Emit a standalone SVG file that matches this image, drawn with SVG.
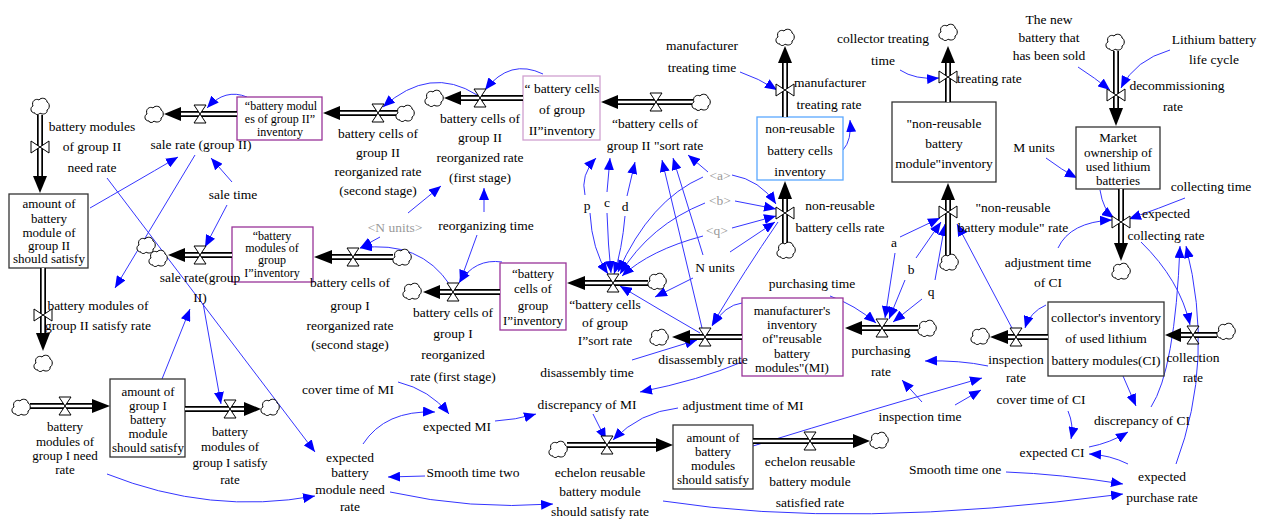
<svg xmlns="http://www.w3.org/2000/svg" xmlns:xlink="http://www.w3.org/1999/xlink" width="1266" height="519" viewBox="0 0 1266 519">
<style>
text { font-family: "Liberation Serif", "Times New Roman", serif; font-size: 13.5px; fill: #000; text-anchor: middle; }
.s { font-size: 13px; }
.t { font-size: 12px; }
.g { fill: #999; }
.lk { fill: none; stroke: #3535ff; stroke-width: 1; marker-end: url(#ah); }
.po { fill: none; stroke: #000; stroke-width: 6; }
.pi { fill: none; stroke: #fff; stroke-width: 2.6; }
.bx { fill: #fff; stroke: #333; stroke-width: 1.3; }
.bp { fill: #fff; stroke: #993399; stroke-width: 1.3; }
.bl { fill: #fff; stroke: #d0a0d0; stroke-width: 1.3; }
.bb { fill: #fff; stroke: #5aa8ff; stroke-width: 1.3; }
.pa { fill: #000; }
.vl { fill: #fff; stroke: #000; stroke-width: 1; }
.cl { fill: #fff; stroke: #000; stroke-width: 1; }
</style>
<defs>
<marker id="ah" viewBox="0 0 12 10" refX="12" refY="5" markerWidth="12" markerHeight="10" markerUnits="userSpaceOnUse" orient="auto">
<path d="M0,0 L12,5 L0,10 Z" fill="#0000ff"/>
</marker>
<path id="cloud" class="cl" d="M-5,7 C-10,7 -10,1 -7,0 C-9,-5 -4,-8 -1,-6 C1,-9 7,-8 7,-4 C10,-3 10,3 7,4 C8,8 2,9 0,7 C-1,9 -5,9 -5,7 Z"/>
<path id="hv" class="vl" d="M-6,-9 L6,-9 L-6,9 L6,9 Z"/>
<path id="vv" class="vl" d="M-9,-6 L-9,6 L9,-6 L9,6 Z"/>
</defs>
<rect width="1266" height="519" fill="#fff"/>

<!-- connectors -->
<g id="connectors">
<path class="lk" d="M740,72 Q758,78 777,90"/>
<path class="lk" d="M900,70 Q915,80 939,78"/>
<path class="lk" d="M1078,67 Q1095,78 1110,90"/>
<path class="lk" d="M1170,50 Q1135,60 1121,88"/>
<path class="lk" d="M1046,158 Q1062,170 1077,178"/>
<path class="lk" d="M1100,190 Q1103,210 1114,218"/>
<path class="lk" d="M1185,198 Q1160,208 1129,219"/>
<path class="lk" d="M1058,248 Q1070,222 1112,220"/>
<path class="lk" d="M1141,242 Q1180,280 1190,325"/>
<path class="lk" d="M1151,407 Q1175,370 1180,246"/>
<path class="lk" d="M1176,464 Q1215,360 1186,246"/>
<path class="lk" d="M1046,305 Q1030,312 1025,328"/>
<path class="lk" d="M1123,376 L1136,406"/>
<path class="lk" d="M1068,411 Q1074,425 1071,439"/>
<path class="lk" d="M1089,447 Q1110,443 1128,432"/>
<path class="lk" d="M1128,464 Q1110,455 1089,454"/>
<path class="lk" d="M1006,472 Q1060,474 1123,484"/>
<path class="lk" d="M663,501 Q850,530 1123,494"/>
<path class="lk" d="M753,446 Q870,410 982,378"/>
<path class="lk" d="M955,405 L981,390"/>
<path class="lk" d="M922,402 L902,380"/>
<path class="lk" d="M988,366 Q960,360 925,361"/>
<path class="lk" d="M1013,330 L957,224"/>
<path class="lk" d="M830,296 Q855,305 876,323"/>
<path class="lk" d="M900,237 L940,218"/>
<path class="lk" d="M895,253 L885,318"/>
<path class="lk" d="M916,258 L941,222"/>
<path class="lk" d="M905,280 L889,319"/>
<path class="lk" d="M935,280 L945,224"/>
<path class="lk" d="M922,299 L893,322"/>
<path class="lk" d="M742,303 Q725,305 712,326"/>
<path class="lk" d="M742,362 Q700,380 640,392"/>
<path class="lk" d="M778,222 Q745,270 712,325"/>
<path class="lk" d="M730,252 L775,222"/>
<path class="lk" d="M732,175 Q760,180 776,204"/>
<path class="lk" d="M735,201 L776,209"/>
<path class="lk" d="M732,228 L776,216"/>
<path class="lk" d="M843,150 Q852,140 850,120"/>
<path class="lk" d="M703,177 Q650,200 618,272"/>
<path class="lk" d="M705,203 Q650,225 620,274"/>
<path class="lk" d="M703,236 Q650,250 622,276"/>
<path class="lk" d="M708,172 L688,155"/>
<path class="lk" d="M703,255 L673,158"/>
<path class="lk" d="M702,328 L662,160"/>
<path class="lk" d="M585,195 Q580,175 596,158"/>
<path class="lk" d="M590,213 Q592,250 608,274"/>
<path class="lk" d="M607,192 L610,158"/>
<path class="lk" d="M607,213 Q608,245 611,273"/>
<path class="lk" d="M627,196 L635,162"/>
<path class="lk" d="M625,216 Q622,250 614,274"/>
<path class="lk" d="M700,333 Q660,310 620,286"/>
<path class="lk" d="M693,278 L655,297"/>
<path class="lk" d="M543,74 Q510,58 485,90"/>
<path class="lk" d="M477,95 Q430,65 383,107"/>
<path class="lk" d="M247,97 Q225,88 207,108"/>
<path class="lk" d="M90,208 Q130,185 178,157"/>
<path class="lk" d="M195,155 L115,288"/>
<path class="lk" d="M232,182 L211,158"/>
<path class="lk" d="M227,205 L205,247"/>
<path class="lk" d="M107,178 L315,452"/>
<path class="lk" d="M162,379 L190,309"/>
<path class="lk" d="M203,303 L221,404"/>
<path class="lk" d="M107,474 Q210,515 315,496"/>
<path class="lk" d="M425,476 L388,477"/>
<path class="lk" d="M363,444 Q385,410 435,412"/>
<path class="lk" d="M398,382 Q430,390 449,414"/>
<path class="lk" d="M495,421 Q515,420 536,414"/>
<path class="lk" d="M593,414 L606,440"/>
<path class="lk" d="M678,408 Q640,412 613,440"/>
<path class="lk" d="M390,492 Q470,510 553,504"/>
<path class="lk" d="M484,212 L484,188"/>
<path class="lk" d="M477,235 L460,282"/>
<path class="lk" d="M408,213 L441,186"/>
<path class="lk" d="M380,237 L360,248"/>
<path class="lk" d="M502,262 Q475,258 459,283"/>
<path class="lk" d="M450,285 Q420,240 360,248"/>
<path class="lk" d="M632,360 L697,340"/>
</g>

<!-- stocks -->
<g id="stock_modules_II_inventory">
<rect class="bp" x="237" y="97" width="85" height="43"/>
<text class="t" x="281" y="110">“battery modul</text><text class="t" x="280" y="122.5">es of group II”</text><text class="t" x="280" y="135.5">inventory</text>
</g>
<g id="stock_cells_II_inventory">
<rect class="bl" x="523" y="76" width="77" height="64"/>
<text x="562" y="93">“ battery cells</text><text x="562" y="114">of group</text><text x="562" y="135">II”inventory</text>
</g>
<g id="stock_nonreusable_cells">
<rect class="bb" x="757" y="117" width="86" height="63"/>
<text x="800" y="133">non-reusable</text><text x="800" y="155">battery cells</text><text x="800" y="176">inventory</text>
</g>
<g id="stock_nonreusable_module">
<rect class="bx" x="892" y="102" width="104" height="80"/>
<text x="944" y="128">"non-reusable</text><text x="944" y="148">battery</text><text x="944" y="168">module"inventory</text>
</g>
<g id="stock_market">
<rect class="bx" x="1076" y="127" width="84" height="62"/>
<text class="s" x="1118" y="141.5">Market</text><text class="s" x="1118" y="156.5">ownership of</text><text class="s" x="1118" y="170.5">used lithium</text><text class="s" x="1118" y="184.5">batteries</text>
</g>
<g id="stock_CI">
<rect class="bx" x="1048" y="302" width="116" height="74"/>
<text x="1106" y="322">collector's inventory</text><text x="1106" y="343">of used lithium</text><text x="1106" y="365">battery modules(CI)</text>
</g>
<g id="stock_MI">
<rect class="bp" x="742" y="298" width="101" height="78"/>
<text class="s" x="792" y="314.5">manufacturer's</text><text class="s" x="792" y="328.5">inventory</text><text class="s" x="792" y="342.5">of"reusable</text><text class="s" x="792" y="357.5">battery</text><text class="s" x="792" y="371.5">modules"(MI)</text>
</g>
<g id="stock_cells_I_inventory">
<rect class="bp" x="500" y="263" width="66" height="67"/>
<text class="s" x="533" y="277.5">“battery</text><text class="s" x="533" y="292.5">cells of</text><text class="s" x="533" y="309.5">group</text><text class="s" x="533" y="324.5">I”inventory</text>
</g>
<g id="stock_modules_I_inventory">
<rect class="bp" x="232" y="227" width="81" height="55"/>
<text class="t" x="272" y="240">“battery</text><text class="t" x="272" y="252">modules of</text><text class="t" x="272" y="264">group</text><text class="t" x="272" y="276.5">I”inventory</text>
</g>
<g id="stock_amount_II">
<rect class="bx" x="9" y="194" width="79" height="74"/>
<text class="s" x="49" y="207.5">amount of</text><text class="s" x="49" y="222.5">battery</text><text class="s" x="49" y="236.5">module of</text><text class="s" x="49" y="249.5">group II</text><text class="s" x="49" y="263">should satisfy</text>
</g>
<g id="stock_amount_I">
<rect class="bx" x="110" y="379" width="75" height="78"/>
<text class="s" x="148" y="395.5">amount of</text><text class="s" x="148" y="410">group I</text><text class="s" x="148" y="424">battery</text><text class="s" x="148" y="438">module</text><text class="s" x="148" y="452">should satisfy</text>
</g>
<g id="stock_amount_modules">
<rect class="bx" x="673" y="425" width="80" height="64"/>
<text class="s" x="713" y="441.5">amount of</text><text class="s" x="713" y="455.5">battery</text><text class="s" x="713" y="469.5">modules</text><text class="s" x="713" y="483.5">should satisfy</text>
</g>

<!-- flows -->
<g id="flow_sale_rate_II">
<path class="po" d="M237,114 H181"/><path class="pi" d="M237,114 H181"/>
<polygon class="pa" points="164,114 181,107 181,121"/>
<use href="#cloud" x="154" y="114"/><use href="#hv" x="200" y="114"/>
<text x="201" y="148.5">sale rate (group II)</text>
</g>
<g id="flow_cells_II_second">
<path class="po" d="M397,113 H340"/><path class="pi" d="M397,113 H340"/>
<polygon class="pa" points="323,113 340,106 340,120"/>
<use href="#cloud" x="405" y="113"/><use href="#hv" x="378" y="113"/>
<text x="378" y="137.5">battery cells of</text><text x="378" y="156.5">group II</text><text x="378" y="175.5">reorganized rate</text><text x="378" y="194.5">(second stage)</text>
</g>
<g id="flow_cells_II_first">
<path class="po" d="M523,98 H461"/><path class="pi" d="M523,98 H461"/>
<polygon class="pa" points="444,98 461,91 461,105"/>
<use href="#cloud" x="434" y="98"/><use href="#hv" x="480" y="98"/>
<text x="480" y="122.5">battery cells of</text><text x="480" y="141.5">group II</text><text x="480" y="161.5">reorganized rate</text><text x="480" y="181.5">(first stage)</text>
</g>
<g id="flow_sort_II">
<path class="po" d="M693,102 H618"/><path class="pi" d="M693,102 H618"/>
<polygon class="pa" points="601,102 618,95 618,109"/>
<use href="#cloud" x="701" y="102"/><use href="#hv" x="656" y="102"/>
<text x="655" y="127.5">“battery cells of</text><text x="655" y="149.5">group II "sort rate</text>
</g>
<g id="flow_manufacturer_treating">
<path class="po" d="M785,117 V63"/><path class="pi" d="M785,117 V63"/>
<polygon class="pa" points="785,46 778,63 792,63"/>
<use href="#cloud" x="785" y="37"/><use href="#vv" x="785" y="90"/>
<text x="830" y="86.5">manufacturer</text><text x="829" y="108.5">treating rate</text>
</g>
<g id="flow_treating">
<path class="po" d="M948,102 V63"/><path class="pi" d="M948,102 V63"/>
<polygon class="pa" points="948,46 941,63 955,63"/>
<use href="#cloud" x="948" y="32"/><use href="#vv" x="948" y="77"/>
<text x="957" y="82.5" style="text-anchor:start">treating rate</text>
</g>
<g id="flow_decommissioning">
<path class="po" d="M1116,51 V108"/><path class="pi" d="M1116,51 V108"/>
<polygon class="pa" points="1116,126 1109,108 1123,108"/>
<use href="#cloud" x="1115" y="42"/><use href="#vv" x="1116" y="95"/>
<text x="1177" y="89.5">decommissioning</text><text x="1173" y="110.5">rate</text>
</g>
<g id="flow_expected_collecting">
<path class="po" d="M1121,189 V243"/><path class="pi" d="M1121,189 V243"/>
<polygon class="pa" points="1121,261 1114,243 1128,243"/>
<use href="#cloud" x="1121" y="271"/><use href="#vv" x="1121" y="222"/>
<text x="1166" y="217.5">expected</text><text x="1166" y="239.5">collecting rate</text>
</g>
<g id="flow_nonreusable_module">
<path class="po" d="M948,257 V200"/><path class="pi" d="M948,257 V200"/>
<polygon class="pa" points="948,183 941,200 955,200"/>
<use href="#cloud" x="949" y="262"/><use href="#vv" x="948" y="212"/>
<text x="1013" y="211.5">"non-reusable</text><text x="1013" y="231.5">battery module" rate</text>
</g>
<g id="flow_nonreusable_cells">
<path class="po" d="M785,243 V199"/><path class="pi" d="M785,243 V199"/>
<polygon class="pa" points="785,181 778,199 792,199"/>
<use href="#cloud" x="786" y="250"/><use href="#vv" x="785" y="213"/>
<text x="840" y="209.5">non-reusable</text><text x="840" y="231.5">battery cells rate</text>
</g>
<g id="flow_collection">
<path class="po" d="M1217,335 H1181"/><path class="pi" d="M1217,335 H1181"/>
<polygon class="pa" points="1165,335 1181,328 1181,342"/>
<use href="#cloud" x="1226" y="331"/><use href="#hv" x="1193" y="335"/>
<text x="1193" y="361.5">collection</text><text x="1193" y="381.5">rate</text>
</g>
<g id="flow_inspection">
<path class="po" d="M1048,337 H1008"/><path class="pi" d="M1048,337 H1008"/>
<polygon class="pa" points="990,337 1008,330 1008,344"/>
<use href="#cloud" x="980" y="336"/><use href="#hv" x="1016" y="337"/>
<text x="1016" y="363.5">inspection</text><text x="1016" y="381.5">rate</text>
</g>
<g id="flow_purchasing">
<path class="po" d="M918,328 H862"/><path class="pi" d="M918,328 H862"/>
<polygon class="pa" points="845,328 862,321 862,335"/>
<use href="#cloud" x="927" y="328"/><use href="#hv" x="882" y="328"/>
<text x="881" y="354.5">purchasing</text><text x="881" y="375.5">rate</text>
</g>
<g id="flow_disassembly">
<path class="po" d="M742,337 H690"/><path class="pi" d="M742,337 H690"/>
<polygon class="pa" points="672,337 690,330 690,344"/>
<use href="#cloud" x="659" y="337"/><use href="#hv" x="705" y="337"/>
<text x="703" y="363.5">disassembly rate</text>
</g>
<g id="flow_sort_I">
<path class="po" d="M648,283 H585"/><path class="pi" d="M648,283 H585"/>
<polygon class="pa" points="567,283 585,276 585,290"/>
<use href="#cloud" x="657" y="281"/><use href="#hv" x="613" y="283"/>
<text x="605" y="308.5">“battery cells</text><text x="605" y="326.5">of group</text><text x="605" y="344.5">I”sort rate</text>
</g>
<g id="flow_cells_I_first">
<path class="po" d="M500,292 H440"/><path class="pi" d="M500,292 H440"/>
<polygon class="pa" points="423,292 440,285 440,299"/>
<use href="#cloud" x="412" y="291"/><use href="#hv" x="453" y="292"/>
<text x="453" y="316.5">battery cells of</text><text x="453" y="337.5">group I</text><text x="453" y="358.5">reorganized</text><text x="453" y="380.5">rate (first stage)</text>
</g>
<g id="flow_cells_I_second">
<path class="po" d="M393,257 H332"/><path class="pi" d="M393,257 H332"/>
<polygon class="pa" points="314,257 332,250 332,264"/>
<use href="#cloud" x="402" y="257"/><use href="#hv" x="353" y="257"/>
<text x="350" y="286.5">battery cells of</text><text x="350" y="309.5">group I</text><text x="350" y="329.5">reorganized rate</text><text x="350" y="348.5">(second stage)</text>
</g>
<g id="flow_sale_rate_I">
<path class="po" d="M232,255 H185"/><path class="pi" d="M232,255 H185"/>
<polygon class="pa" points="168,255 185,248 185,262"/>
<use href="#cloud" x="146" y="245"/><use href="#cloud" x="158" y="258"/><use href="#hv" x="200" y="255"/>
<text x="200" y="281.5">sale rate(group</text><text x="200" y="301.5">II)</text>
</g>
<g id="flow_need_II">
<path class="po" d="M40,115 V176"/><path class="pi" d="M40,115 V176"/>
<polygon class="pa" points="40,193 33,176 47,176"/>
<use href="#cloud" x="40" y="106"/><use href="#vv" x="40" y="147"/>
<text x="92" y="130.5">battery modules</text><text x="92" y="150.5">of group II</text><text x="92" y="171.5">need rate</text>
</g>
<g id="flow_satisfy_II">
<path class="po" d="M43,268 V333"/><path class="pi" d="M43,268 V333"/>
<polygon class="pa" points="43,351 36,333 50,333"/>
<use href="#cloud" x="43" y="363"/><use href="#vv" x="43" y="315"/>
<text x="98" y="309.5">battery modules of</text><text x="98" y="329.5">group II satisfy rate</text>
</g>
<g id="flow_need_I">
<path class="po" d="M30,406 H92"/><path class="pi" d="M30,406 H92"/>
<polygon class="pa" points="110,406 92,399 92,413"/>
<use href="#cloud" x="21" y="407"/><use href="#hv" x="65" y="406"/>
<text class="s" x="65" y="430.5">battery</text><text class="s" x="65" y="445.5">modules of</text><text class="s" x="65" y="459.5">group I need</text><text class="s" x="65" y="473.5">rate</text>
</g>
<g id="flow_satisfy_I">
<path class="po" d="M185,409 H244"/><path class="pi" d="M185,409 H244"/>
<polygon class="pa" points="261,409 244,402 244,416"/>
<use href="#cloud" x="270" y="407"/><use href="#hv" x="230" y="409"/>
<text class="s" x="230" y="435.5">battery</text><text class="s" x="230" y="450.5">modules of</text><text class="s" x="230" y="466.5">group I satisfy</text><text class="s" x="230" y="483.5">rate</text>
</g>
<g id="flow_echelon_should">
<path class="po" d="M567,445 H656"/><path class="pi" d="M567,445 H656"/>
<polygon class="pa" points="673,445 656,438 656,452"/>
<use href="#cloud" x="558" y="449"/><use href="#hv" x="607" y="445"/>
<text x="600" y="476.5">echelon reusable</text><text x="600" y="495.5">battery module</text><text x="600" y="515.5">should satisfy rate</text>
</g>
<g id="flow_echelon_satisfied">
<path class="po" d="M753,441 H853"/><path class="pi" d="M753,441 H853"/>
<polygon class="pa" points="870,441 853,434 853,448"/>
<use href="#cloud" x="879" y="440"/><use href="#hv" x="810" y="441"/>
<text x="810" y="465.5">echelon reusable</text><text x="810" y="485.5">battery module</text><text x="810" y="506.5">satisfied rate</text>
</g>

<!-- auxiliaries -->
<g id="aux_manufacturer_treating_time"><text x="702" y="49.5">manufacturer</text><text x="702" y="71.5">treating time</text></g>
<g id="aux_collector_treating_time"><text x="883" y="42.5">collector treating</text><text x="883" y="64.5">time</text></g>
<g id="aux_new_battery"><text x="1049" y="23.5">The new</text><text x="1049" y="41.5">battery that</text><text x="1049" y="59.5">has been sold</text></g>
<g id="aux_life_cycle"><text x="1214" y="43.5">Lithium battery</text><text x="1214" y="63.5">life cycle</text></g>
<g id="aux_M_units"><text x="1034" y="151.5">M units</text></g>
<g id="aux_collecting_time"><text x="1211" y="190.5">collecting time</text></g>
<g id="aux_adjustment_CI"><text x="1048" y="266.5">adjustment time</text><text x="1048" y="286.5">of CI</text></g>
<g id="aux_a"><text x="894" y="246.5">a</text></g>
<g id="aux_b"><text x="911" y="273.5">b</text></g>
<g id="aux_q"><text x="931" y="295.5">q</text></g>
<g id="aux_purchasing_time"><text x="812" y="287.5">purchasing time</text></g>
<g id="aux_a_shadow"><text class="g" x="720" y="179.5">&lt;a&gt;</text></g>
<g id="aux_b_shadow"><text class="g" x="720" y="204.5">&lt;b&gt;</text></g>
<g id="aux_q_shadow"><text class="g" x="717" y="234.5">&lt;q&gt;</text></g>
<g id="aux_N_units"><text x="715" y="271.5">N units</text></g>
<g id="aux_p"><text x="587" y="209.5">p</text></g>
<g id="aux_c"><text x="607" y="206.5">c</text></g>
<g id="aux_d"><text x="625" y="210.5">d</text></g>
<g id="aux_disassembly_time"><text x="587" y="376.5">disassembly time</text></g>
<g id="aux_discrepancy_MI"><text x="587" y="408.5">discrepancy of MI</text></g>
<g id="aux_adjustment_MI"><text x="743" y="409.5">adjustment time of MI</text></g>
<g id="aux_expected_MI"><text x="457" y="430.5">expected MI</text></g>
<g id="aux_cover_MI"><text x="348" y="393.5">cover time of MI</text></g>
<g id="aux_expected_need"><text x="350" y="461.5">expected</text><text x="350" y="476.5">battery</text><text x="350" y="493.5">module need</text><text x="350" y="510.5">rate</text></g>
<g id="aux_smooth_two"><text x="473" y="476.5">Smooth time two</text></g>
<g id="aux_inspection_time"><text x="920" y="420.5">inspection time</text></g>
<g id="aux_cover_CI"><text x="1041" y="403.5">cover time of CI</text></g>
<g id="aux_discrepancy_CI"><text x="1142" y="424.5">discrepancy of CI</text></g>
<g id="aux_expected_CI"><text x="1052" y="456.5">expected CI</text></g>
<g id="aux_expected_purchase"><text x="1162" y="480.5">expected</text><text x="1162" y="501.5">purchase rate</text></g>
<g id="aux_smooth_one"><text x="955" y="473.5">Smooth time one</text></g>
<g id="aux_N_units_shadow"><text class="g" x="395" y="231.5">&lt;N units&gt;</text></g>
<g id="aux_reorganizing_time"><text x="486" y="229.5">reorganizing time</text></g>
<g id="aux_sale_time"><text x="233" y="198.5">sale time</text></g>
</svg>
